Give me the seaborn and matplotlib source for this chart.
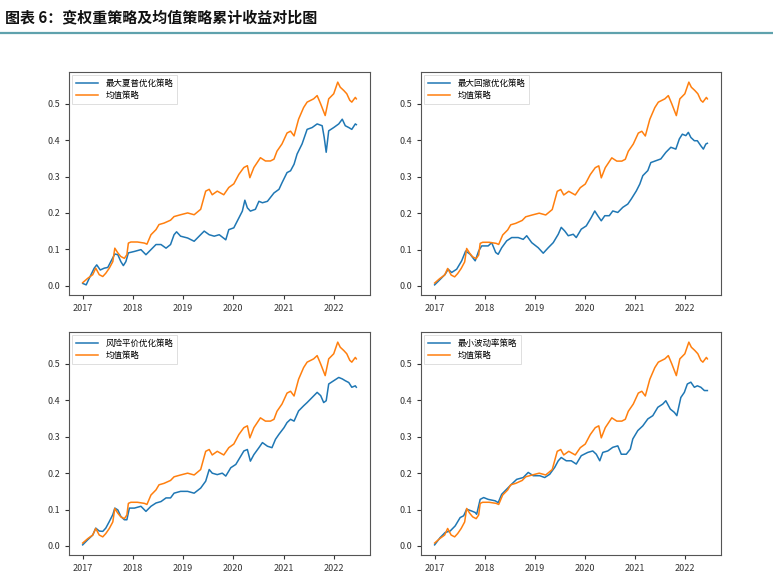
import matplotlib
matplotlib.use("Agg")
import matplotlib.pyplot as plt
from matplotlib.lines import Line2D
import seaborn as sns
import pandas as pd

plt.rcParams['font.family'] = ['Noto Sans CJK SC', 'DejaVu Sans']
plt.rcParams['axes.unicode_minus'] = False

title_text = "图表 6：变权重策略及均值策略累计收益对比图"
mean_label = "均值策略"
strategy_labels = ["最大夏普优化策略", "最大回撤优化策略", "风险平价优化策略", "最小波动率策略"]
year_ticks = [2017, 2018, 2019, 2020, 2021, 2022]
year_tick_labels = ["2017", "2018", "2019", "2020", "2021", "2022"]

# 均值策略 (same in all four panels)
mean_t = [2017.00, 2017.10, 2017.20, 2017.26, 2017.33, 2017.40, 2017.46, 2017.53, 2017.60, 2017.64,
          2017.70, 2017.76, 2017.83, 2017.88, 2017.91, 2017.96, 2018.09, 2018.23, 2018.28, 2018.36,
          2018.46, 2018.52, 2018.62, 2018.75, 2018.82, 2018.95, 2019.09, 2019.22, 2019.35, 2019.45,
          2019.52, 2019.58, 2019.68, 2019.81, 2019.91, 2020.01, 2020.11, 2020.21, 2020.28, 2020.33,
          2020.41, 2020.54, 2020.64, 2020.74, 2020.81, 2020.87, 2020.97, 2021.07, 2021.14, 2021.21,
          2021.30, 2021.40, 2021.47, 2021.60, 2021.67, 2021.74, 2021.83, 2021.90, 2022.00, 2022.08,
          2022.13, 2022.20, 2022.26, 2022.32, 2022.36, 2022.43, 2022.45]
mean_v = [0.008, 0.02, 0.03, 0.048, 0.03, 0.025, 0.034, 0.048, 0.066, 0.103,
          0.09, 0.08, 0.075, 0.085, 0.117, 0.12, 0.12, 0.117, 0.114, 0.14,
          0.154, 0.168, 0.172, 0.18, 0.19, 0.195, 0.2, 0.195, 0.21, 0.26,
          0.265, 0.25, 0.26, 0.25, 0.27, 0.28, 0.306, 0.325, 0.33, 0.297,
          0.325, 0.352, 0.343, 0.343, 0.348, 0.37, 0.39, 0.42, 0.425, 0.412,
          0.458, 0.49, 0.505, 0.514, 0.523, 0.5, 0.468, 0.514, 0.528, 0.56,
          0.546, 0.537, 0.528, 0.51, 0.505, 0.518, 0.514]

# 最大夏普优化策略
sharpe_t = [2017.00, 2017.07, 2017.13, 2017.23, 2017.28, 2017.35, 2017.43, 2017.50, 2017.56, 2017.64,
            2017.70, 2017.76, 2017.81, 2017.86, 2017.91, 2018.03, 2018.16, 2018.26, 2018.36, 2018.46,
            2018.56, 2018.66, 2018.75, 2018.82, 2018.87, 2018.95, 2019.09, 2019.22, 2019.32, 2019.42,
            2019.52, 2019.62, 2019.72, 2019.85, 2019.91, 2020.01, 2020.11, 2020.18, 2020.23, 2020.28,
            2020.34, 2020.44, 2020.51, 2020.58, 2020.68, 2020.81, 2020.91, 2020.97, 2021.07, 2021.14,
            2021.21, 2021.27, 2021.37, 2021.47, 2021.57, 2021.67, 2021.77, 2021.81, 2021.85, 2021.90,
            2022.00, 2022.10, 2022.17, 2022.23, 2022.30, 2022.36, 2022.43, 2022.45]
sharpe_v = [0.006, 0.002, 0.02, 0.048, 0.057, 0.043, 0.048, 0.05, 0.066, 0.087,
            0.085, 0.066, 0.055, 0.066, 0.09, 0.094, 0.099, 0.085, 0.099, 0.113,
            0.113, 0.103, 0.113, 0.14, 0.148, 0.136, 0.131, 0.122, 0.136, 0.15,
            0.14, 0.136, 0.14, 0.126, 0.154, 0.159, 0.186, 0.205, 0.235, 0.214,
            0.205, 0.21, 0.232, 0.228, 0.232, 0.255, 0.265, 0.283, 0.311, 0.316,
            0.334, 0.362, 0.39, 0.43, 0.435, 0.445, 0.44, 0.408, 0.367, 0.426,
            0.435, 0.445, 0.458, 0.44, 0.435, 0.43, 0.445, 0.443]

# 最大回撤优化策略
drawdown_t = [2017.00, 2017.11, 2017.21, 2017.27, 2017.34, 2017.44, 2017.54, 2017.62, 2017.71, 2017.81,
              2017.88, 2017.94, 2018.07, 2018.14, 2018.22, 2018.27, 2018.34, 2018.44, 2018.54, 2018.67,
              2018.77, 2018.84, 2018.94, 2019.07, 2019.17, 2019.27, 2019.37, 2019.47, 2019.53, 2019.60,
              2019.67, 2019.77, 2019.83, 2019.93, 2020.03, 2020.13, 2020.20, 2020.26, 2020.33, 2020.40,
              2020.49, 2020.56, 2020.66, 2020.76, 2020.86, 2020.93, 2021.03, 2021.10, 2021.16, 2021.26,
              2021.32, 2021.42, 2021.52, 2021.62, 2021.72, 2021.82, 2021.89, 2021.95, 2022.02, 2022.07,
              2022.12, 2022.19, 2022.25, 2022.32, 2022.37, 2022.42, 2022.45]
drawdown_v = [0.003, 0.018, 0.032, 0.046, 0.037, 0.046, 0.069, 0.096, 0.087, 0.069,
              0.096, 0.11, 0.11, 0.119, 0.092, 0.087, 0.105, 0.124, 0.133, 0.133,
              0.128, 0.138, 0.119, 0.105, 0.09, 0.105, 0.119, 0.142, 0.161, 0.151,
              0.138, 0.142, 0.133, 0.156, 0.165, 0.188, 0.206, 0.193, 0.179, 0.193,
              0.193, 0.206, 0.202, 0.216, 0.225, 0.239, 0.261, 0.28, 0.303, 0.317,
              0.339, 0.344, 0.349, 0.367, 0.381, 0.376, 0.404, 0.417, 0.413, 0.422,
              0.408, 0.399, 0.399, 0.385, 0.376, 0.39, 0.392]

# 风险平价优化策略
riskparity_t = [2017.00, 2017.10, 2017.20, 2017.26, 2017.33, 2017.40, 2017.46, 2017.53, 2017.60, 2017.64,
                2017.70, 2017.76, 2017.83, 2017.88, 2017.93, 2018.03, 2018.16, 2018.26, 2018.36, 2018.46,
                2018.56, 2018.66, 2018.75, 2018.82, 2018.95, 2019.09, 2019.22, 2019.35, 2019.45, 2019.52,
                2019.58, 2019.68, 2019.78, 2019.85, 2019.95, 2020.05, 2020.15, 2020.21, 2020.28, 2020.34,
                2020.41, 2020.51, 2020.58, 2020.68, 2020.77, 2020.84, 2020.91, 2021.01, 2021.07, 2021.14,
                2021.21, 2021.30, 2021.40, 2021.47, 2021.57, 2021.67, 2021.74, 2021.80, 2021.85, 2021.90,
                2022.00, 2022.10, 2022.17, 2022.23, 2022.30, 2022.36, 2022.43, 2022.45]
riskparity_v = [0.003, 0.017, 0.03, 0.049, 0.041, 0.04, 0.049, 0.067, 0.086, 0.104,
                0.099, 0.081, 0.072, 0.072, 0.104, 0.104, 0.109, 0.095, 0.109, 0.118,
                0.122, 0.132, 0.132, 0.145, 0.15, 0.15, 0.145, 0.159, 0.178, 0.21,
                0.2, 0.196, 0.2, 0.192, 0.215, 0.224, 0.247, 0.261, 0.265, 0.233,
                0.251, 0.27, 0.284, 0.274, 0.27, 0.293, 0.307, 0.325, 0.339, 0.348,
                0.343, 0.371, 0.385, 0.394, 0.408, 0.422, 0.413, 0.394, 0.399, 0.445,
                0.454, 0.463, 0.459, 0.454, 0.449, 0.436, 0.44, 0.436]

# 最小波动率策略
minvol_t = [2017.00, 2017.11, 2017.21, 2017.31, 2017.41, 2017.51, 2017.58, 2017.64, 2017.74, 2017.81,
            2017.84, 2017.91, 2017.98, 2018.07, 2018.21, 2018.27, 2018.34, 2018.44, 2018.54, 2018.64,
            2018.77, 2018.87, 2018.97, 2019.10, 2019.20, 2019.30, 2019.40, 2019.47, 2019.53, 2019.63,
            2019.73, 2019.83, 2019.93, 2020.06, 2020.16, 2020.23, 2020.30, 2020.36, 2020.46, 2020.56,
            2020.66, 2020.73, 2020.83, 2020.91, 2020.96, 2021.06, 2021.16, 2021.26, 2021.36, 2021.46,
            2021.56, 2021.62, 2021.71, 2021.79, 2021.84, 2021.92, 2021.99, 2022.05, 2022.12, 2022.19,
            2022.25, 2022.32, 2022.39, 2022.45]
minvol_v = [0.003, 0.023, 0.037, 0.041, 0.055, 0.078, 0.083, 0.101, 0.096, 0.092,
            0.087, 0.128, 0.133, 0.128, 0.124, 0.119, 0.142, 0.156, 0.17, 0.183,
            0.188, 0.202, 0.193, 0.193, 0.188, 0.197, 0.216, 0.234, 0.243, 0.234,
            0.234, 0.225, 0.248, 0.257, 0.261, 0.252, 0.234, 0.257, 0.261, 0.271,
            0.275, 0.252, 0.252, 0.266, 0.294, 0.317, 0.33, 0.349, 0.358, 0.381,
            0.39, 0.399, 0.376, 0.367, 0.358, 0.408, 0.422, 0.445, 0.45, 0.436,
            0.44, 0.436, 0.427, 0.427]

strategy_series = [(sharpe_t, sharpe_v), (drawdown_t, drawdown_v),
                   (riskparity_t, riskparity_v), (minvol_t, minvol_v)]

BLUE = "#1f77b4"
ORANGE = "#ff7f0e"

W, H = 773, 576
fig = plt.figure(figsize=(W / 100, H / 100), dpi=100)
fig.patch.set_facecolor("white")

# panel rectangles in pixels: (left, top, right, bottom)
panels = [(69, 72, 370, 295), (421, 72, 721, 295),
          (69, 332, 370, 555), (421, 332, 721, 555)]

mean_df = pd.DataFrame({"year": mean_t, "value": mean_v})

for (l, t, r, b), label, (st, sv) in zip(panels, strategy_labels, strategy_series):
    ax = fig.add_axes([l / W, 1 - b / H, (r - l) / W, (b - t) / H])
    df = pd.DataFrame({"year": st, "value": sv})
    sns.lineplot(data=df, x="year", y="value", ax=ax, color=BLUE, linewidth=1.1, label=label)
    sns.lineplot(data=mean_df, x="year", y="value", ax=ax, color=ORANGE, linewidth=1.1, label=mean_label)
    ax.set_xticks(year_ticks)
    ax.set_xticklabels(year_tick_labels)
    ax.set_yticks([0.0, 0.1, 0.2, 0.3, 0.4, 0.5])
    ax.set_yticklabels(["0.0", "0.1", "0.2", "0.3", "0.4", "0.5"])
    ax.set_xlabel("")
    ax.set_ylabel("")
    ax.tick_params(labelsize=6.5, length=3, width=0.8, colors="#333333")
    for sp in ax.spines.values():
        sp.set_color("#555555")
        sp.set_linewidth(0.8)
    leg = ax.legend(loc="upper left", fontsize=6.1, frameon=True, fancybox=False,
                    borderpad=0.45, handlelength=2.6, handletextpad=0.9,
                    labelspacing=0.35, borderaxespad=0.35)
    leg.get_frame().set_edgecolor("#d0d0d0")
    leg.get_frame().set_linewidth(0.6)

fig.text(5 / W, 1 - 17.5 / H, title_text, fontsize=10.8, fontweight="bold",
         ha="left", va="center", color="#111111")
fig.add_artist(Line2D([0, 1], [1 - 33 / H, 1 - 33 / H], transform=fig.transFigure,
                      color="#5fa2ad", linewidth=1.6))

fig.savefig("out.png", dpi=100, facecolor="white")
